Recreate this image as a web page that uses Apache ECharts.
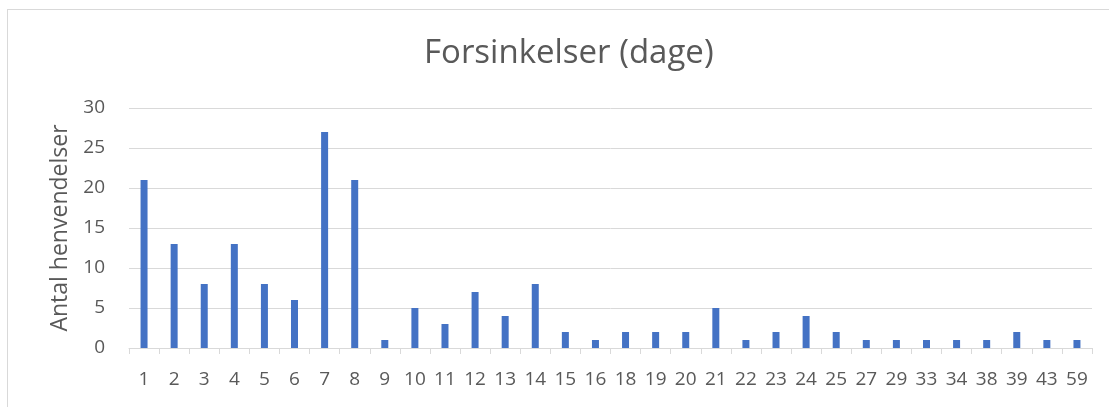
<!DOCTYPE html>
<html>
<head>
<meta charset="utf-8">
<script src="https://cdn.jsdelivr.net/npm/echarts@6/dist/echarts.min.js"></script>
<style>
html,body{margin:0;padding:0;background:#fff;overflow:hidden;}
#frame{position:absolute;left:7px;top:9px;width:1200px;height:500px;border:1px solid #d9d9d9;box-sizing:border-box;}
#chart{position:absolute;left:0;top:0;width:1109px;height:407px;}
</style>
</head>
<body>
<div id="frame"></div>
<div id="chart"></div>
<script>
const categories = ['1','2','3','4','5','6','7','8','9','10','11','12','13','14','15','16','18','19','20','21','22','23','24','25','27','29','33','34','38','39','43','59'];
const values = [21,13,8,13,8,6,27,21,1,5,3,7,4,8,2,1,2,2,2,5,1,2,4,2,1,1,1,1,1,2,1,1];
const yTicks = [0,5,10,15,20,25,30];
const titleText = 'Forsinkelser (dage)';
const yName = 'Antal henvendelser';

const font = "'Open Sans', 'Liberation Sans', sans-serif";
const chart = echarts.init(document.getElementById('chart'), null, {renderer: 'canvas'});
chart.setOption({
  animation: false,
  backgroundColor: 'transparent',
  title: {
    text: titleText,
    left: 419,
    top: 32,
    textStyle: {color: '#595959', fontSize: 33, fontWeight: 'normal', fontFamily: font}
  },
  grid: {left: 129, right: 17, top: 108, bottom: 59, containLabel: false},
  xAxis: {
    type: 'category',
    data: categories,
    axisLine: {lineStyle: {color: '#d9d9d9', width: 1}},
    axisTick: {show: true, length: 6, lineStyle: {color: '#d9d9d9'}},
    axisLabel: {color: '#595959', fontSize: 19, fontFamily: font, margin: 22, interval: 0}
  },
  yAxis: {
    type: 'value',
    min: yTicks[0],
    max: yTicks[yTicks.length - 1],
    interval: 5,
    name: yName,
    nameLocation: 'middle',
    nameGap: 57,
    nameTextStyle: {color: '#595959', fontSize: 23, fontFamily: font},
    axisLine: {show: false},
    axisTick: {show: false},
    axisLabel: {color: '#595959', fontSize: 19, fontFamily: font, margin: 24},
    splitLine: {lineStyle: {color: '#d9d9d9', width: 1}}
  },
  series: [{
    type: 'bar',
    data: values,
    barWidth: 7,
    itemStyle: {color: '#4472C4'}
  }]
});
</script>
</body>
</html>
